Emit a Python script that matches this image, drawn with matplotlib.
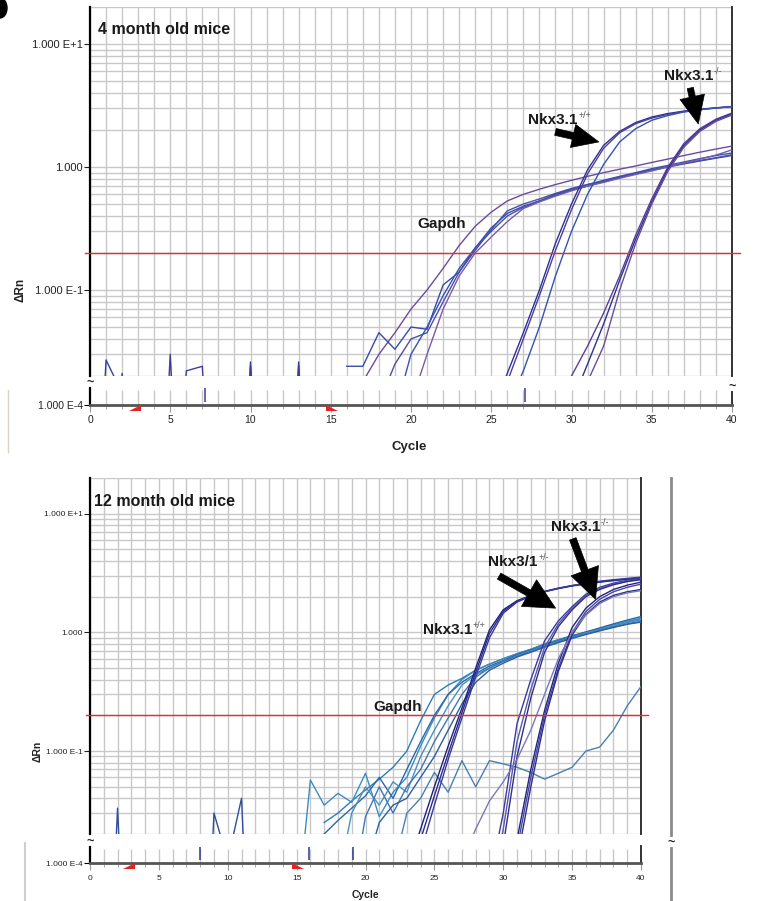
import numpy as np
import matplotlib.pyplot as plt
from matplotlib.patches import FancyArrowPatch, ArrowStyle, Ellipse
from matplotlib.ticker import LogLocator, NullFormatter

plt.rcParams['font.family'] = ['Liberation Sans', 'DejaVu Sans']

# ---- 4 month old mice (every curve list ends at cycle 40) ----
top_gapdh = [
    [0.018, 0.03, 0.045, 0.07, 0.1, 0.15, 0.23, 0.33, 0.43, 0.53, 0.6, 0.66, 0.72, 0.78,
     0.84, 0.9, 0.96, 1.02, 1.09, 1.16, 1.24, 1.32, 1.4, 1.48],
    [0.024, 0.024, 0.045, 0.033, 0.05, 0.048, 0.11, 0.14, 0.22, 0.32, 0.42, 0.48, 0.53,
     0.59, 0.65, 0.7, 0.76, 0.82, 0.88, 0.94, 1.0, 1.06, 1.12, 1.18, 1.24],
    [0.012, 0.025, 0.04, 0.045, 0.08, 0.14, 0.21, 0.31, 0.44, 0.5, 0.55, 0.61, 0.67, 0.72,
     0.77, 0.83, 0.89, 0.95, 1.01, 1.07, 1.13, 1.19, 1.26],
    [0.01, 0.03, 0.05, 0.09, 0.15, 0.22, 0.3, 0.4, 0.47, 0.53, 0.6, 0.66, 0.72, 0.78, 0.84,
     0.9, 0.97, 1.03, 1.1, 1.17, 1.24, 1.3],
    [0.012, 0.03, 0.07, 0.13, 0.2, 0.27, 0.36, 0.46, 0.52, 0.58, 0.64, 0.7, 0.75, 0.81,
     0.87, 0.93, 1.0, 1.08, 1.16, 1.25, 1.38],
]
top_wt = [
    [0.01, 0.021, 0.045, 0.1, 0.24, 0.5, 0.95, 1.5, 1.95, 2.3, 2.55, 2.72, 2.85, 2.95, 3.03, 3.1],
    [0.008, 0.018, 0.04, 0.09, 0.21, 0.45, 0.88, 1.42, 1.9, 2.25, 2.5, 2.68, 2.82, 2.93, 3.02, 3.1],
    [0.011, 0.022, 0.05, 0.13, 0.3, 0.6, 1.05, 1.6, 2.05, 2.4, 2.62, 2.8, 2.92, 3.02, 3.1],
]
top_ko = [
    [0.01, 0.02, 0.035, 0.065, 0.13, 0.28, 0.55, 1.0, 1.55, 2.05, 2.45, 2.75],
    [0.012, 0.025, 0.053, 0.12, 0.26, 0.52, 0.96, 1.5, 2.0, 2.4, 2.7],
    [0.006, 0.018, 0.035, 0.1, 0.24, 0.5, 0.92, 1.45, 1.95, 2.35, 2.65],
]
# noise traces start at cycle 0
top_noise = [
    [1e-4, 0.027, 0.0145, 1e-4, 1e-4, 0.03, 1e-4, 1e-4, 1e-4, 1e-4, 0.026, 1e-4, 1e-4,
     0.026, 1e-4, 1e-4],
    [1e-4, 1e-4, 0.021, 1e-4, 1e-4, 1e-4, 0.022, 0.024, 1e-4, 1e-4, 0.024, 1e-4, 1e-4,
     0.024, 1e-4],
]
top_strip_spikes = [7.15, 27.1]

# ---- 12 month old mice ----
bot_gapdh = [
    [0.025, 0.03, 0.038, 0.047, 0.058, 0.073, 0.1, 0.18, 0.3, 0.36, 0.41, 0.48, 0.54, 0.6,
     0.66, 0.72, 0.8, 0.87, 0.94, 1.0, 1.07, 1.14, 1.21, 1.28],
    [0.004, 0.057, 0.035, 0.044, 0.037, 0.065, 0.028, 0.045, 0.06, 0.11, 0.19, 0.3, 0.4,
     0.48, 0.54, 0.6, 0.66, 0.72, 0.79, 0.86, 0.93, 1.0, 1.08, 1.16, 1.24, 1.32],
    [0.02, 0.026, 0.033, 0.042, 0.06, 0.04, 0.07, 0.12, 0.2, 0.3, 0.38, 0.45, 0.52, 0.58,
     0.65, 0.71, 0.78, 0.85, 0.93, 1.01, 1.09, 1.18, 1.27, 1.36],
    [0.008, 0.03, 0.05, 0.035, 0.055, 0.045, 0.09, 0.15, 0.24, 0.36, 0.44, 0.5, 0.57, 0.63,
     0.7, 0.77, 0.84, 0.91, 0.99, 1.06, 1.14, 1.22, 1.3],
    [0.006, 0.028, 0.05, 0.03, 0.05, 0.07, 0.12, 0.19, 0.3, 0.42, 0.5, 0.57, 0.63, 0.69,
     0.76, 0.83, 0.9, 0.97, 1.04, 1.11, 1.18, 1.24],
    [0.01, 0.025, 0.035, 0.04, 0.06, 0.09, 0.15, 0.25, 0.38, 0.48, 0.55, 0.62, 0.68, 0.75,
     0.82, 0.89, 0.96, 1.03, 1.1, 1.17, 1.22],
]
bot_late = [0.01, 0.03, 0.04, 0.066, 0.045, 0.083, 0.05, 0.083, 0.078, 0.073, 0.066, 0.058,
            0.065, 0.073, 0.1, 0.108, 0.15, 0.24, 0.35]
bot_wt = [
    [0.01, 0.022, 0.05, 0.11, 0.23, 0.5, 1.05, 1.55, 1.85, 2.05, 2.22, 2.36, 2.48, 2.58,
     2.67, 2.75, 2.82, 2.88],
    [0.008, 0.018, 0.042, 0.095, 0.21, 0.46, 0.98, 1.5, 1.82, 2.03, 2.2, 2.34, 2.46, 2.56,
     2.65, 2.73, 2.8, 2.86],
    [0.006, 0.014, 0.035, 0.085, 0.19, 0.42, 0.9, 1.45, 1.8, 2.02, 2.2, 2.35, 2.48, 2.6,
     2.7, 2.78, 2.85, 2.92],
]
bot_het = [
    [0.008, 0.03, 0.17, 0.4, 0.85, 1.25, 1.65, 2.1, 2.4, 2.6, 2.75, 2.85],
    [0.006, 0.022, 0.12, 0.33, 0.75, 1.18, 1.6, 2.05, 2.35, 2.55, 2.7, 2.8],
    [0.005, 0.016, 0.09, 0.28, 0.68, 1.12, 1.55, 2.0, 2.3, 2.52, 2.68, 2.78],
]
bot_ko = [
    [0.006, 0.018, 0.07, 0.22, 0.55, 1.1, 1.6, 2.0, 2.3, 2.5, 2.65],
    [0.005, 0.015, 0.06, 0.2, 0.5, 1.0, 1.5, 1.9, 2.2, 2.4, 2.55],
    [0.004, 0.012, 0.05, 0.18, 0.47, 0.95, 1.42, 1.8, 2.05, 2.2, 2.3],
    [0.012, 0.022, 0.038, 0.055, 0.085, 0.15, 0.3, 0.6, 1.0, 1.4, 1.75, 2.0, 2.15, 2.25],
]
bot_noise = [
    [1e-4, 1e-4, 0.033, 1e-4, 1e-4, 1e-4, 1e-4, 1e-4, 1e-4, 0.03, 0.012, 0.04, 1e-4],
]
bot_strip_spikes = [7.95, 15.9, 19.1]

baseline_marks = [2.8, 15.1]
threshold = 0.2
ytick_vals = [0.1, 1, 10]
ytick_text = ['1.000 E-1', '1.000', '1.000 E+1']
cycle_ticks = np.arange(0, 41, 5)

W, H = 760, 901
GRID = '#c8c8ca'
fig = plt.figure(figsize=(W / 100, H / 100), dpi=100)


def box(x0, x1, y0, y1):
    return [x0 / W, 1 - y1 / H, (x1 - x0) / W, (y1 - y0) / H]


def style_main(ax, fs):
    ax.set_yscale('log')
    ax.set_xlim(0, 40)
    ax.set_ylim(0.02, 20)
    ax.set_xticks(np.arange(0, 41))
    ax.tick_params(axis='x', length=0, labelbottom=False)
    ax.set_yticks(ytick_vals, labels=ytick_text)
    ax.yaxis.set_minor_locator(LogLocator(subs=np.arange(2, 10)))
    ax.yaxis.set_minor_formatter(NullFormatter())
    ax.tick_params(axis='y', which='major', length=4, width=0.8, labelsize=fs, pad=1,
                   colors='#222')
    ax.tick_params(axis='y', which='minor', length=0)
    ax.grid(True, which='major', axis='x', color=GRID, lw=1)
    ax.grid(True, which='both', axis='y', color=GRID, lw=1)
    ax.set_axisbelow(True)
    for s in ('top', 'bottom'):
        ax.spines[s].set_visible(False)
    ax.spines['left'].set_linewidth(1.6)
    ax.spines['right'].set_color('#333')
    ax.spines['right'].set_linewidth(1.4)
    ax.axhline(threshold, xmin=-0.008, xmax=1.012, color='#e3302b', lw=1.0,
               clip_on=False, zorder=4)


def style_strip(st, fs, pad, spikes, spike_c, right_len, right_tilde=True):
    st.set_xlim(0, 40)
    st.set_ylim(0, 1)
    st.patch.set_alpha(0)
    for s in ('top', 'right', 'left'):
        st.spines[s].set_visible(False)
    st.spines['bottom'].set_color('#555')
    st.spines['bottom'].set_linewidth(2)
    st.set_xticks(cycle_ticks)
    st.set_xticks(np.arange(0, 41), minor=True)
    st.tick_params(axis='x', which='major', length=5, color='#999', labelsize=fs,
                   pad=pad, labelcolor='#222')
    st.tick_params(axis='x', which='minor', length=3, color='#999')
    st.set_yticks([0], labels=['1.000 E-4'])
    st.tick_params(axis='y', length=4, width=0.8, labelsize=fs, pad=1, labelcolor='#222')
    st.vlines(np.arange(1, 40), 0, 0.75, color=GRID, lw=1)
    st.vlines(spikes, 0.15, 0.85, color=spike_c, lw=1.1)
    st.plot([0, 0], [0, 0.85], color='k', lw=1.6, clip_on=False)
    st.plot([40, 40], [0, right_len], color='#333', lw=1.4, clip_on=False)
    st.text(0, 0.8, '~', ha='center', va='bottom', fontsize=9, weight='bold', color='#222')
    if right_tilde:
        st.text(40, right_len - 0.05, '~', ha='center', va='bottom', fontsize=9,
                weight='bold', color='#222')
    tri_a = [(1, 0), (1, -1), (-1, -1)]
    tri_b = [(-1, 0), (-1, -1), (1, -1)]
    st.scatter(baseline_marks[:1], [0], marker=tri_a, s=75, color='#e02525',
               clip_on=False, zorder=5, linewidths=0)
    st.scatter(baseline_marks[1:], [0], marker=tri_b, s=75, color='#e02525',
               clip_on=False, zorder=5, linewidths=0)


def draw_set(ax, curves, colors, lw=1.0):
    for i, v in enumerate(curves):
        c = np.arange(41 - len(v), 41)
        ax.plot(c, v, color=colors[i % len(colors)], lw=lw, zorder=3)


def draw_noise(ax, curves, color):
    for v in curves:
        ax.plot(np.arange(len(v)), v, color=color, lw=1.0, zorder=3)


def arrow(ax, tail, tip, hl, hw, tw):
    style = ArrowStyle.Simple(head_length=hl, head_width=hw, tail_width=tw)
    ax.add_patch(FancyArrowPatch(tail, tip, arrowstyle=style, mutation_scale=1,
                                 color='black', lw=0.5, shrinkA=0, shrinkB=0,
                                 zorder=6, clip_on=False))


def label(ax, x, y, main, sup, fs):
    t = ax.text(x, y, main, fontsize=fs, weight='bold', ha='left', va='center',
                color='#1a1a1a', zorder=7)
    if sup:
        ax.annotate(sup, xy=(1, 1), xycoords=t, xytext=(0.5, 1.5),
                    textcoords='offset points', fontsize=6.5, va='top', ha='left',
                    color='#555', zorder=7)


# ---------------- top panel ----------------
ax1 = fig.add_axes(box(90, 732, 7, 376))
st1 = fig.add_axes(box(90, 732, 385, 405))
style_main(ax1, 8)
style_strip(st1, 7.5, 2, top_strip_spikes, '#3a3f9e', 0.65)

draw_noise(ax1, top_noise, '#3b3f9a')
draw_set(ax1, top_gapdh, ['#6a4c9c', '#3a4aa6', '#4a4fa8', '#3553b0', '#7a5aa8'])
draw_set(ax1, top_wt, ['#2e3192', '#4b3f99', '#3553b0'])
draw_set(ax1, top_ko, ['#5a3f95', '#2e3192', '#6a4c9c'])

ax1.text(0.012, 0.938, '4 month old mice', transform=ax1.transAxes, fontsize=11.5,
         weight='bold', ha='left', va='center', color='#1a1a1a')
label(ax1, 20.4, 0.344, 'Gapdh', None, 11)
label(ax1, 27.3, 2.41, 'Nkx3.1', '+/+', 11)
label(ax1, 35.75, 5.5, 'Nkx3.1', '-/-', 11)
arrow(ax1, (29.0, 1.93), (31.7, 1.6), 19, 17, 5)
arrow(ax1, (37.4, 4.39), (37.9, 2.24), 20, 18, 4.5)

fig.text(20 / W, 1 - 290 / H, '\u0394Rn', rotation=90, ha='center', va='center',
         fontsize=8.5, weight='bold', color='#222')
fig.text(409 / W, 1 - 447 / H, 'Cycle', ha='center', va='center', fontsize=9.5,
         weight='bold', color='#222')

# ---------------- bottom panel ----------------
ax2 = fig.add_axes(box(90, 641, 478, 834))
st2 = fig.add_axes(box(90, 641, 844, 863))
style_main(ax2, 6)
style_strip(st2, 6, 4, bot_strip_spikes, '#2b3a8a', 0.9, right_tilde=False)

draw_noise(ax2, bot_noise, '#2f4f9a')
draw_set(ax2, bot_gapdh, ['#2f7db5', '#3a8cc4', '#2a68a8', '#4a90c0', '#3f78b0', '#2b5fa0'])
ax2.plot(np.arange(41 - len(bot_late), 41), bot_late, color='#4a7fb0', lw=1.0, zorder=3)
draw_set(ax2, bot_wt, ['#1f1f7a', '#2a2a8a', '#3a3a9a'])
draw_set(ax2, bot_het, ['#3b3b9b', '#5a57a8', '#2f2f8c'])
draw_set(ax2, bot_ko, ['#23237e', '#4646a0', '#2c2c90', '#7a78b8'])

ax2.text(0.007, 0.933, '12 month old mice', transform=ax2.transAxes, fontsize=11.5,
         weight='bold', ha='left', va='center', color='#1a1a1a')
label(ax2, 20.6, 0.236, 'Gapdh', None, 11)
label(ax2, 24.15, 1.04, 'Nkx3.1', '+/+', 11)
label(ax2, 28.9, 3.92, 'Nkx3/1', '+/-', 11)
label(ax2, 33.45, 7.76, 'Nkx3.1', '-/-', 11)
arrow(ax2, (29.7, 2.98), (33.8, 1.6), 22, 22, 5)
arrow(ax2, (35.05, 6.14), (36.7, 1.9), 22, 21, 5)

fig.text(38 / W, 1 - 751 / H, '\u0394Rn', rotation=90, ha='center', va='center',
         fontsize=7.5, weight='bold', color='#222')
fig.text(365 / W, 1 - 895 / H, 'Cycle', ha='center', va='center', fontsize=7.5,
         weight='bold', color='#222')

# window edges and the cropped panel letter
fig.add_artist(plt.Line2D([671 / W, 671 / W], [1 - 478 / H, 1 - 835 / H], color='#8a8a8a', lw=2))
fig.add_artist(plt.Line2D([671 / W, 671 / W], [1 - 848 / H, 0], color='#8a8a8a', lw=2))
fig.text(671 / W, 1 - 849 / H, '~', ha='center', va='bottom', fontsize=9, weight='bold',
         color='#222')
fig.add_artist(plt.Line2D([8 / W, 8 / W], [1 - 390 / H, 1 - 452 / H], color='#d8d2c4', lw=1))
fig.add_artist(plt.Line2D([25 / W, 25 / W], [1 - 843 / H, 0], color='#cfcfcf', lw=1.5))
fig.add_artist(Ellipse((0.0, 1 - 8 / H), 14 / W, 20 / H, transform=fig.transFigure,
                       color='black'))

fig.savefig('out.png', dpi=100)
